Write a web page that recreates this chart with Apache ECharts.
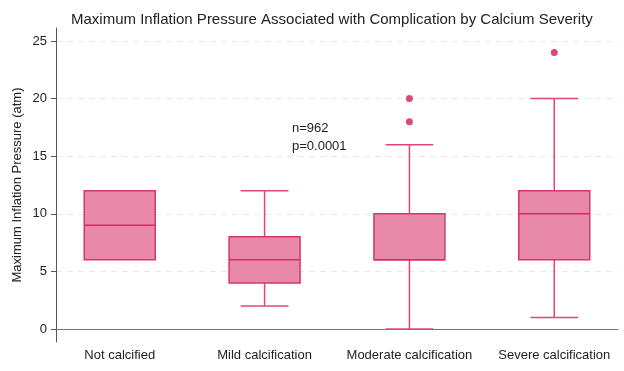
<!DOCTYPE html>
<html>
<head>
<meta charset="utf-8">
<script src="https://cdn.jsdelivr.net/npm/echarts@6/dist/echarts.min.js"></script>
<style>
html,body{margin:0;padding:0;background:#fff;}
#chart{width:624px;height:371px;}
</style>
</head>
<body>
<div id="chart"></div>
<script>
// ---- data ----
var categories = ['Not calcified', 'Mild calcification', 'Moderate calcification', 'Severe calcification'];
var positions = [1, 2, 3, 4];
// [min, Q1, median, Q3, max]
var boxStats = [
  [6, 6, 9, 12, 12],
  [2, 4, 6, 8, 12],
  [0, 6, 6, 10, 16],
  [1, 6, 10, 12, 20]
];
var outlierCategory = [3, 3, 4];
var outlierValues = [18, 20, 24];
var yTicks = [0, 5, 10, 15, 20, 25];
var annotationLines = ['n=962', 'p=0.0001'];

var FONT = 'Liberation Sans, Arial, sans-serif';
var boxData = boxStats.map(function (s, i) { return [positions[i]].concat(s); });
var outlierData = outlierValues.map(function (v, i) { return [outlierCategory[i], v]; });

var chart = echarts.init(document.getElementById('chart'), null, {renderer: 'canvas'});
chart.setOption({
  animation: false,
  backgroundColor: '#fff',
  textStyle: {fontFamily: FONT},
  title: {
    text: 'Maximum Inflation Pressure Associated with Complication by Calcium Severity',
    left: 66, top: 7,
    textStyle: {fontSize: 15, fontWeight: 'normal', color: '#222', fontFamily: FONT}
  },
  grid: {left: 56, right: 6, top: 28, bottom: 29, containLabel: false, outerBoundsMode: 'none'},
  xAxis: {
    type: 'value', min: 0.56, max: 4.44,
    axisLine: {show: true, lineStyle: {color: '#777', width: 1}},
    axisTick: {show: false},
    splitLine: {show: false},
    axisLabel: {
      customValues: positions,
      formatter: function (v) { var i = positions.indexOf(Math.round(v)); return i >= 0 ? categories[i] : ''; },
      color: '#222', fontSize: 13, margin: 7, fontFamily: FONT
    }
  },
  yAxis: {
    type: 'value', min: -1.13, max: 26.13,
    name: 'Maximum Inflation Pressure (atm)',
    nameLocation: 'middle', nameGap: 32, nameMoveOverlap: false,
    nameTextStyle: {fontSize: 13, color: '#222', fontFamily: FONT},
    axisLine: {show: true, lineStyle: {color: '#555', width: 1}},
    axisTick: {show: true, customValues: yTicks, length: 5, lineStyle: {color: '#555'}},
    axisLabel: {customValues: yTicks, color: '#222', fontSize: 13, margin: 9, fontFamily: FONT},
    splitLine: {show: true, lineStyle: {color: '#e8e8e8', type: [6, 5], width: 1}}
  },
  graphic: [{
    type: 'text', left: 292, top: 119,
    style: {text: annotationLines.join('\n'), font: '13px ' + FONT, fill: '#222', lineHeight: 18}
  }],
  series: [{
    type: 'custom',
    data: boxData,
    encode: {x: 0, y: [1, 2, 3, 4, 5]},
    renderItem: function (params, api) {
      var x = api.value(0);
      var vMin = api.value(1), q1 = api.value(2), med = api.value(3), q3 = api.value(4), vMax = api.value(5);
      var pMin = api.coord([x, vMin]), pQ1 = api.coord([x, q1]), pMed = api.coord([x, med]);
      var pQ3 = api.coord([x, q3]), pMax = api.coord([x, vMax]);
      var hb = api.size([0.49, 0])[0] / 2;
      var hc = api.size([0.33, 0])[0] / 2;
      var wStyle = {stroke: '#e0457b', lineWidth: 1.5, fill: null};
      var children = [];
      if (vMin < q1) {
        children.push({type: 'line', shape: {x1: pMin[0], y1: pMin[1], x2: pQ1[0], y2: pQ1[1]}, style: wStyle});
        children.push({type: 'line', shape: {x1: pMin[0] - hc, y1: pMin[1], x2: pMin[0] + hc, y2: pMin[1]}, style: wStyle});
      }
      if (vMax > q3) {
        children.push({type: 'line', shape: {x1: pQ3[0], y1: pQ3[1], x2: pMax[0], y2: pMax[1]}, style: wStyle});
        children.push({type: 'line', shape: {x1: pMax[0] - hc, y1: pMax[1], x2: pMax[0] + hc, y2: pMax[1]}, style: wStyle});
      }
      children.push({type: 'rect', shape: {x: pQ1[0] - hb, y: pQ3[1], width: hb * 2, height: pQ1[1] - pQ3[1]},
        style: {fill: '#e889a9', stroke: '#d8346f', lineWidth: 1.5}});
      children.push({type: 'line', shape: {x1: pMed[0] - hb, y1: pMed[1], x2: pMed[0] + hb, y2: pMed[1]},
        style: {stroke: '#d42a66', lineWidth: 1.5}});
      return {type: 'group', children: children};
    }
  }, {
    type: 'scatter',
    data: outlierData,
    symbol: 'circle', symbolSize: 7,
    itemStyle: {color: '#d6185c'}
  }]
});
</script>
</body>
</html>
